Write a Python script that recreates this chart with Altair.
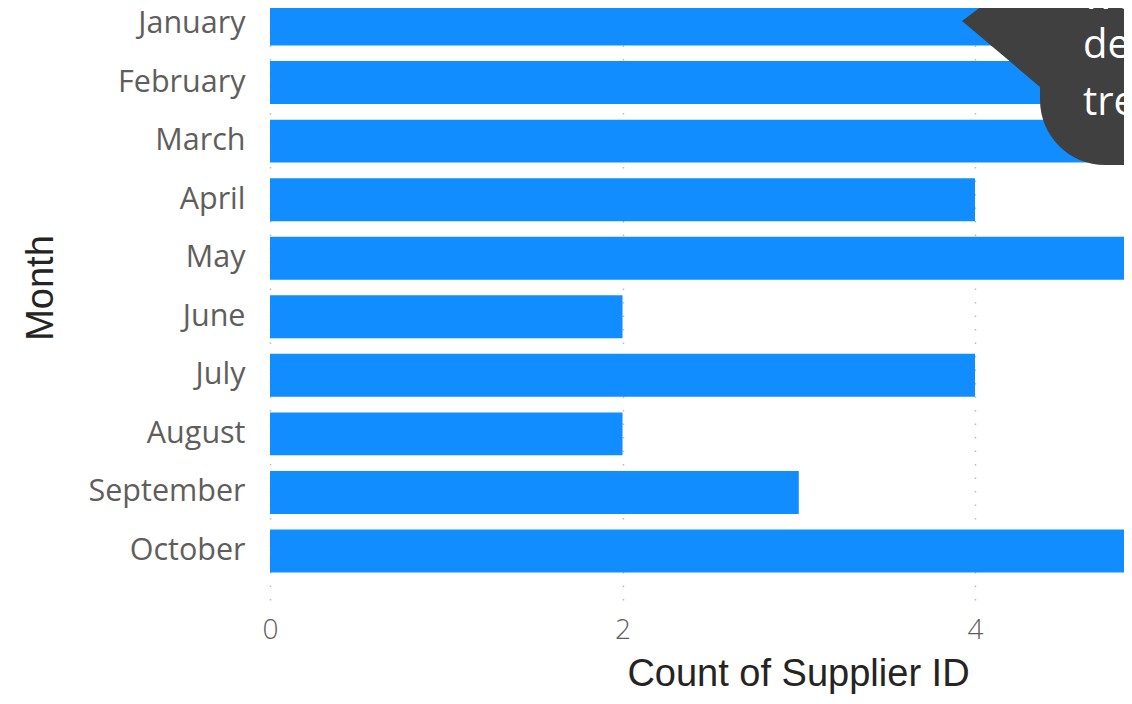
import altair as alt
import pandas as pd

months = ["January", "February", "March", "April", "May", "June",
          "July", "August", "September", "October"]
counts = [5, 5, 5, 4, 5, 2, 4, 2, 3, 5]
x_ticks = [0, 2, 4]
callout_lines = ["we", "de", "tre"]

df = pd.DataFrame({"Month": months, "Count": counts})

W = 854
H = 625
X_MAX = 4.845
LABEL_GRAY = "#605E5C"
TITLE_DARK = "#252423"
BAR_BLUE = "#118DFF"
CALLOUT = "#404040"

bars = alt.Chart(df).mark_bar(color=BAR_BLUE, clip=True).encode(
    x=alt.X(
        "Count:Q",
        scale=alt.Scale(domain=[0, X_MAX], nice=False, zero=True),
        axis=alt.Axis(
            values=x_ticks, title="Count of Supplier ID", grid=True,
            gridDash=[1.5, 12], gridColor="#bdbbb9", gridWidth=1.5,
            domain=False, ticks=False, labelFlush=False,
            labelFont="Open Sans", labelFontSize=28, labelFontWeight=300,
            labelColor=LABEL_GRAY, labelPadding=16,
            titleFont="Liberation Sans", titleFontSize=38,
            titleFontWeight="normal", titleColor=TITLE_DARK,
            titleX=528, titleY=85, titleBaseline="alphabetic",
            titleAlign="center",
        ),
    ),
    y=alt.Y(
        "Month:N", sort=months,
        scale=alt.Scale(paddingInner=0.266, paddingOuter=0.47),
        axis=alt.Axis(
            title="Month", domain=False, ticks=False, grid=False,
            labelFont="Open Sans", labelFontSize=30.5, labelFontWeight="normal",
            labelColor=LABEL_GRAY, labelPadding=25,
            titleFont="Liberation Sans", titleFontSize=38,
            titleFontWeight="normal", titleColor=TITLE_DARK,
            titleX=-218, titleBaseline="alphabetic", titleAlign="center",
        ),
    ),
)

one = alt.Data(values=[{"k": 1}])

bubble = alt.Chart(one).mark_rect(
    color=CALLOUT, cornerRadiusBottomLeft=72, clip=True
).encode(
    x=alt.value(770), x2=alt.value(900), y=alt.value(-10), y2=alt.value(190)
)

pointer = alt.Chart(one).mark_point(
    shape="M-0.971,-0.143L-0.1,-0.8L1,-0.8L1,0.8L0.143,0.8Z",
    size=19600, filled=True, color=CALLOUT, opacity=1, strokeWidth=0, clip=True,
).encode(x=alt.value(760), y=alt.value(56))

line_y = [34, 83, 140]
texts = []
for line, yy in zip(callout_lines, line_y):
    texts.append(
        alt.Chart(one).mark_text(
            align="left", baseline="alphabetic", font="Open Sans",
            fontSize=40, color="white", clip=True,
        ).encode(x=alt.value(813), y=alt.value(yy), text=alt.value(line))
    )

chart = alt.layer(bars, bubble, pointer, *texts).properties(
    width=W, height=H,
    autosize=alt.AutoSizeParams(type="none"),
    padding={"left": 262, "top": -33, "right": 0, "bottom": 94},
).configure_view(stroke=None)

chart.save("out.html", embed_options={"renderer": "svg", "actions": False})
